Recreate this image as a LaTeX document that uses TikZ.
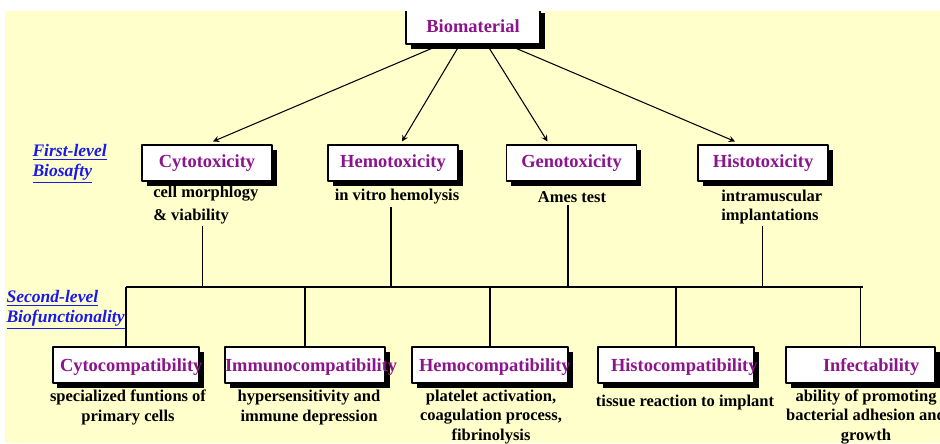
\documentclass[tikz,border=0pt]{standalone}
\usepackage{fontspec}
\setmainfont{Liberation Serif}
\usetikzlibrary{calc,shadows}
\definecolor{paleyellow}{RGB}{255,255,204}
\definecolor{labelpurple}{RGB}{140,20,140}
\definecolor{levelblue}{RGB}{25,25,235}
\tikzset{
	testbox/.style={draw=black, line width=0.6pt, fill=white, minimum height=36*0.02cm, inner sep=0pt,
		drop shadow={shadow xshift=0.09cm, shadow yshift=-0.09cm, fill=black, opacity=1},
		font=\fontsize{10.5}{12}\selectfont\bfseries, text=labelpurple},
	boxtext/.style={font=\fontsize{10.5}{12}\selectfont\bfseries, text=labelpurple, inner sep=0pt},
	desc/.style={font=\fontsize{9.4}{11}\selectfont\bfseries, align=center, inner sep=1pt},
	levellabel/.style={font=\fontsize{10}{11.4}\selectfont\bfseries\itshape, text=levelblue, align=left, inner sep=0pt},
}
\begin{document}
\begin{tikzpicture}[x=0.02cm, y=-0.02cm, >=stealth, line join=round, line width=0.6pt]
	\useasboundingbox (0,0) rectangle (940,443);
	\fill[paleyellow] (5,11) rectangle (940,443);
	\clip (5,11) rectangle (940,443);
	% top
	\node[testbox, minimum width=134*0.02cm] (bio) at (473,26) {Biomaterial};
	% first level
	\foreach \n/\x/\t in {cyto/207/Cytotoxicity, hemo/393/Hemotoxicity, geno/571.5/Genotoxicity, histo/763/Histotoxicity}
	\node[testbox, minimum width=130*0.02cm] (\n) at (\x,163) {\t};
	\foreach \n/\s/\e in {cyto/26/6, hemo/52/9, geno/84/-24, histo/111/-28}
	\draw[->] ($(bio.south west)+(\s,4)$) -- ($(\n.north)+(\e,-3)$);
	\node[desc, align=left, anchor=west] (cytoD) at (151,205) {cell morphlogy\\[2pt]\& viability};
	\node[desc] (hemoD) at (397,197) {in vitro hemolysis};
	\node[desc] (genoD) at (572,197) {Ames test};
	\node[desc, align=left, anchor=west] (histoD) at (719,207) {intramuscular\\implantations};
	% bus
	\coordinate (busL) at (126,287);
	\coordinate (busR) at (863,287);
	\draw (busL) -- (busR);
	\foreach \n/\dx in {cytoD/-3, hemoD/-6, genoD/-4, histoD/-9}
	\draw (\n.south) ++(\dx,0) coordinate (top) -- (top |- busL);
	% second level
	\foreach \n/\x/\w/\t/\o in {cytoc/126/146/Cytocompatibility/7, immuno/305/160/Immunocompatibility/0, hemoc/490/156/Hemocompatibility/7, histoc/676/156/Histocompatibility/13, infect/860.5/149/Infectability/37}
	{
		\draw (\x,287) -- (\x,347);
		\node[testbox, minimum width=\w*0.02cm] (\n) at (\x,365) {};
		\node[boxtext, anchor=west] (\n T) at ($(\n.west)+(\o,2)$) {\t};
	}
	\node[desc] (cytocD) at (128,407.5) {specialized funtions of\\primary cells};
	\node[desc] (immunoD) at (309,407.5) {hypersensitivity and\\immune depression};
	\node[desc] (hemocD) at (491,417) {platelet activation,\\coagulation process,\\fibrinolysis};
	\node[desc] (histocD) at (685,403) {tissue reaction to implant};
	\node[desc] (infectD) at (866,417) {ability of promoting\\bacterial adhesion and\\growth};
	% level labels
	\node[levellabel, anchor=west] (first) at (32,164) {\underline{First-level}\\\underline{Biosafty}};
	\node[levellabel, anchor=west] (second) at (6,310) {\underline{Second-level}\\\underline{Biofunctionality}};
\end{tikzpicture}
\end{document}
